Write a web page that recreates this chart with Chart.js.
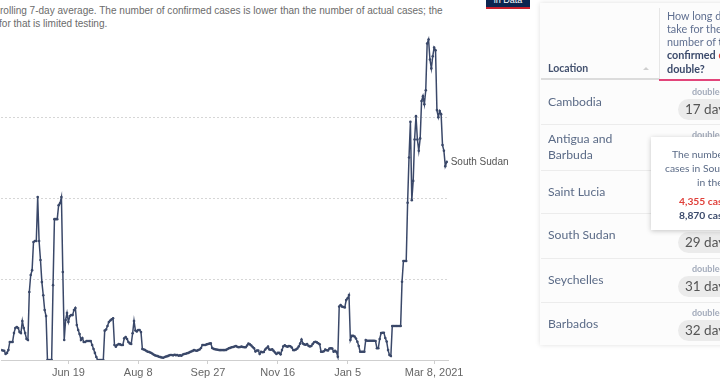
<!DOCTYPE html>
<html><head><meta charset="utf-8">
<script src="https://cdn.jsdelivr.net/npm/chart.js@4.4.1/dist/chart.umd.min.js"></script>
<style>
html,body{margin:0;padding:0;width:720px;height:380px;overflow:hidden;background:#fff;position:relative;}
#wrap{position:absolute;left:0;top:0;width:540px;height:380px;}
.sub{position:absolute;left:0;font-family:"Liberation Sans",Arial,sans-serif;font-size:10.05px;color:#6b6b6b;white-space:nowrap;line-height:13px;}
#logo{position:absolute;left:486px;top:-8px;width:44px;height:15px;background:#0c2550;border-bottom:2px solid #c8202d;color:#fff;font-family:"Liberation Sans",Arial,sans-serif;font-size:9px;text-align:center;line-height:17px;}
.t{position:absolute;font-family:Lato,"Open Sans",sans-serif;white-space:nowrap;}
#panel{position:absolute;left:540px;top:3px;width:190px;height:342px;background:#fcfcfc;box-shadow:0 0 5px rgba(0,0,0,0.13);}
.hline{position:absolute;height:1px;background:#ececec;left:541px;width:180px;}
.country{font-size:12.2px;color:#5b6b87;line-height:16px;left:548px;}
.dbl{font-size:9px;font-weight:bold;color:#a3abbb;left:692px;line-height:10px;}
.pill{position:absolute;left:678px;width:70px;height:21px;border-radius:11px;background:#ebebeb;font-family:Lato,sans-serif;font-size:13.5px;color:#555;line-height:21px;padding-left:7px;box-sizing:border-box;white-space:nowrap;}
#tip{position:absolute;left:651px;top:137px;width:90px;height:93px;background:#fff;box-shadow:0 1px 5px rgba(0,0,0,0.22);}
.tt{font-size:10.3px;color:#5b6b87;line-height:14px;}
</style></head>
<body>
<div class="sub" style="top:3.5px">rolling 7-day average. The number of confirmed cases is lower than the number of actual cases; the</div>
<div class="sub" style="top:16.5px;left:-1px">for that is limited testing.</div>
<div id="logo">in Data</div>
<div id="wrap"><canvas id="c" width="540" height="380"></canvas></div>

<div id="panel"></div>
<div class="t" style="left:548px;top:61px;font-size:10.5px;font-weight:bold;color:#44526f;line-height:14px;">Location</div>
<div style="position:absolute;left:643px;top:67px;width:0;height:0;border-left:3.5px solid transparent;border-right:3.5px solid transparent;border-bottom:3px solid #cfcfcf;"></div>
<div style="position:absolute;left:659px;top:8px;width:1px;height:72px;background:#e6e6e6;"></div>
<div style="position:absolute;left:541px;top:78px;width:118px;height:2px;background:#dcdcdc;"></div>
<div style="position:absolute;left:659px;top:78.5px;width:61px;height:2px;background:#e2457a;"></div>
<div class="t" style="left:667px;top:8.5px;font-size:10.8px;line-height:13.3px;color:#5f6f90;">How long did it<br>take for the total<br>number of <b style="color:#3b4a6b">total</b><br><b style="color:#3b4a6b">confirmed <span style="color:#e0403a">cases</span> to</b><br><b style="color:#3b4a6b">double?</b></div>

<div class="hline" style="top:124px"></div>
<div class="hline" style="top:170px"></div>
<div class="hline" style="top:213px"></div>
<div class="hline" style="top:258px"></div>
<div class="hline" style="top:302px"></div>

<div class="t country" style="top:94px">Cambodia</div>
<div class="t country" style="top:130.5px">Antigua and<br>Barbuda</div>
<div class="t country" style="top:184px">Saint Lucia</div>
<div class="t country" style="top:227px">South Sudan</div>
<div class="t country" style="top:272px">Seychelles</div>
<div class="t country" style="top:316px">Barbados</div>

<div class="t dbl" style="top:86.5px">doubled in</div>
<div class="pill" style="top:99px">17 days</div>
<div class="t dbl" style="top:130px">doubled in</div>
<div class="pill" style="top:231.5px">29 days</div>
<div class="t dbl" style="top:264px">doubled in</div>
<div class="pill" style="top:275.5px">31 days</div>
<div class="t dbl" style="top:308px">doubled in</div>
<div class="pill" style="top:319.5px">32 days</div>

<div id="tip"></div>
<div class="t tt" style="left:672px;top:146.5px">The number of</div>
<div class="t tt" style="left:665px;top:160.5px">cases in South Sudan</div>
<div class="t tt" style="left:697px;top:174.5px">in the last</div>
<div class="t tt" style="left:679px;top:194px;font-weight:bold;color:#e0403a">4,355 cases</div>
<div class="t tt" style="left:679px;top:208px;font-weight:bold;color:#3b4a6b">8,870 cases</div>

<script>
// ---- data ----
const seriesName = 'South Sudan';
const firstDate = '2020-04-28';           // date of the first value below (one value per day)
const cases = [
  5.0,4.5,5.0,4.9,4.9,4.7,4.6,3.0,3.5,4.9,
  8.9,8.9,8.9,13.3,15.8,16.3,15.8,13.8,13.3,19.3,
  15.8,13.3,10.4,9.9,33.6,42.0,44.4,58.3,58.8,58.8,
  80.5,58.8,49.4,38.5,32.0,24.7,21.7,0,0,0,
  0,37.0,69.6,69.6,69.6,76.5,77.5,80.5,43.5,9.9,
  19.8,23.2,18.8,21.7,22.2,22.2,24.7,25.7,17.3,14.8,
  12.8,9.9,10.9,8.9,8.9,9.4,9.4,9.4,9.4,7.4,
  5.4,3.5,1.5,0,0,0,0,0,14.5,15.1,
  16.8,18.8,19.5,20.1,20.6,7.4,6.6,7.4,7.9,7.7,
  7.4,7.4,10.7,11.4,10.4,8.9,8.2,7.9,13.2,19.3,
  14.6,14.1,14.8,14.8,13.8,5.4,5.2,4.9,4.4,4.1,
  3.9,3.6,3.2,2.7,2.3,2.1,1.9,1.6,1.4,1.2,
  1.1,1.5,1.7,1.9,2.2,2.5,2.5,2.3,2.6,2.4,
  2.5,2.1,2.3,2.1,2.7,3.0,3.1,3.3,3.5,3.9,
  4.2,4.5,4.9,4.7,4.6,4.9,5.2,5.9,7.4,7.4,
  7.4,7.7,7.9,8.1,8.2,5.9,5.5,5.3,5.2,5.1,
  4.9,4.9,4.9,4.9,4.9,5.0,5.4,5.8,6.0,6.3,
  6.4,6.7,6.9,6.5,6.3,6.4,6.6,6.4,6.3,6.3,
  7.2,8.1,7.7,7.2,6.4,5.8,4.2,4.7,4.7,3.0,
  4.0,3.8,4.0,5.2,5.9,6.6,5.2,5.1,5.3,4.5,
  3.7,3.0,3.5,3.5,2.8,4.9,6.8,7.3,6.8,6.6,
  6.9,6.8,6.2,4.9,4.9,5.2,5.7,6.7,8.1,10.1,
  8.1,7.7,7.5,7.9,7.0,6.7,6.9,7.9,8.8,9.0,
  8.7,8.3,7.8,4.1,4.1,4.3,5.2,4.8,4.7,5.7,
  5.8,5.7,4.1,4.5,4.0,1.6,26.4,27.2,26.4,26.2,
  26.0,29.6,30.5,32.1,9.9,11.9,11.9,11.6,10.6,9.0,
  6.9,4.1,4.1,4.1,4.1,9.9,9.5,9.5,9.5,9.5,
  9.5,9.5,9.4,5.8,5.8,10.4,13.3,13.5,13.5,10.9,
  9.1,4.9,2.5,2.0,16.8,16.8,16.8,16.8,16.8,16.8,
  16.8,38.7,48.9,48.9,48.9,77.7,100.1,117.7,79.0,88.5,
  109.0,120.5,109.0,103.4,109.5,128.0,130.4,126.4,133.3,156.4,
  158.4,148.5,144.1,150.1,154.4,153.1,123.5,120.0,123.0,121.5,
  106.2,103.4,95.8,97.9
];
const tickDates  = ['2020-06-19','2020-08-08','2020-09-27','2020-11-16','2021-01-05','2021-03-08'];
const tickLabels = ['Jun 19','Aug 8','Sep 27','Nov 16','Jan 5','Mar 8, 2021'];
const gridValues = [0, 40, 80, 120];

// ---- build ----
const DAY = 864e5, base = Date.UTC(2020,0,1);
const dayNum = s => (Date.parse(s + 'T00:00:00Z') - base) / DAY;
const start = dayNum(firstDate);
const points = cases.map((v,i) => ({x: start + i, y: v}));
const tickDays = tickDates.map(dayNum);
const lineColor = '#3a4869';
const FONT = '"Liberation Sans", Arial, sans-serif';

const endLabel = {
  id: 'endLabel',
  afterDatasetsDraw(chart) {
    const meta = chart.getDatasetMeta(0);
    const p = meta.data[meta.data.length - 1];
    const ctx = chart.ctx;
    ctx.save();
    ctx.font = '10px ' + FONT;
    ctx.fillStyle = '#555';
    ctx.textBaseline = 'middle';
    ctx.fillText(seriesName, p.x + 4, p.y);
    ctx.restore();
  }
};

new Chart(document.getElementById('c'), {
  type: 'line',
  data: { datasets: [{
    label: seriesName, data: points,
    borderColor: lineColor, borderWidth: 1.5,
    pointRadius: 1.3, pointBackgroundColor: lineColor, pointBorderWidth: 0,
    pointHoverRadius: 0, tension: 0, fill: false
  }]},
  options: {
    responsive: false, animation: false, devicePixelRatio: 1,
    layout: { padding: { left: 0, right: 92, top: 16, bottom: 0 } },
    plugins: { legend: { display: false }, tooltip: { enabled: false } },
    scales: {
      x: {
        type: 'linear', min: 121.93, max: 441.93,
        afterBuildTicks: s => { s.ticks = tickDays.map(v => ({value: v})); },
        afterFit: s => { s.height = 20; },
        ticks: { autoSkip: false, maxRotation: 0, padding: 2, color: '#666',
                 font: { family: FONT, size: 11 },
                 callback: v => tickLabels[tickDays.indexOf(v)] },
        grid: { drawOnChartArea: false, drawTicks: true, tickLength: 4, color: '#cfcfcf' },
        border: { color: '#cfcfcf', width: 1 }
      },
      y: {
        min: 0, max: 170,
        afterBuildTicks: s => { s.ticks = gridValues.map(v => ({value: v})); },
        afterFit: s => { s.width = 0; },
        ticks: { display: false },
        border: { display: false, dash: [2, 2] },
        grid: { drawTicks: false, lineWidth: 1,
                color: c => (c.tick && c.tick.value === 0) ? 'rgba(0,0,0,0)' : '#d6d6d6' }
      }
    }
  },
  plugins: [endLabel]
});
</script>
</body></html>
